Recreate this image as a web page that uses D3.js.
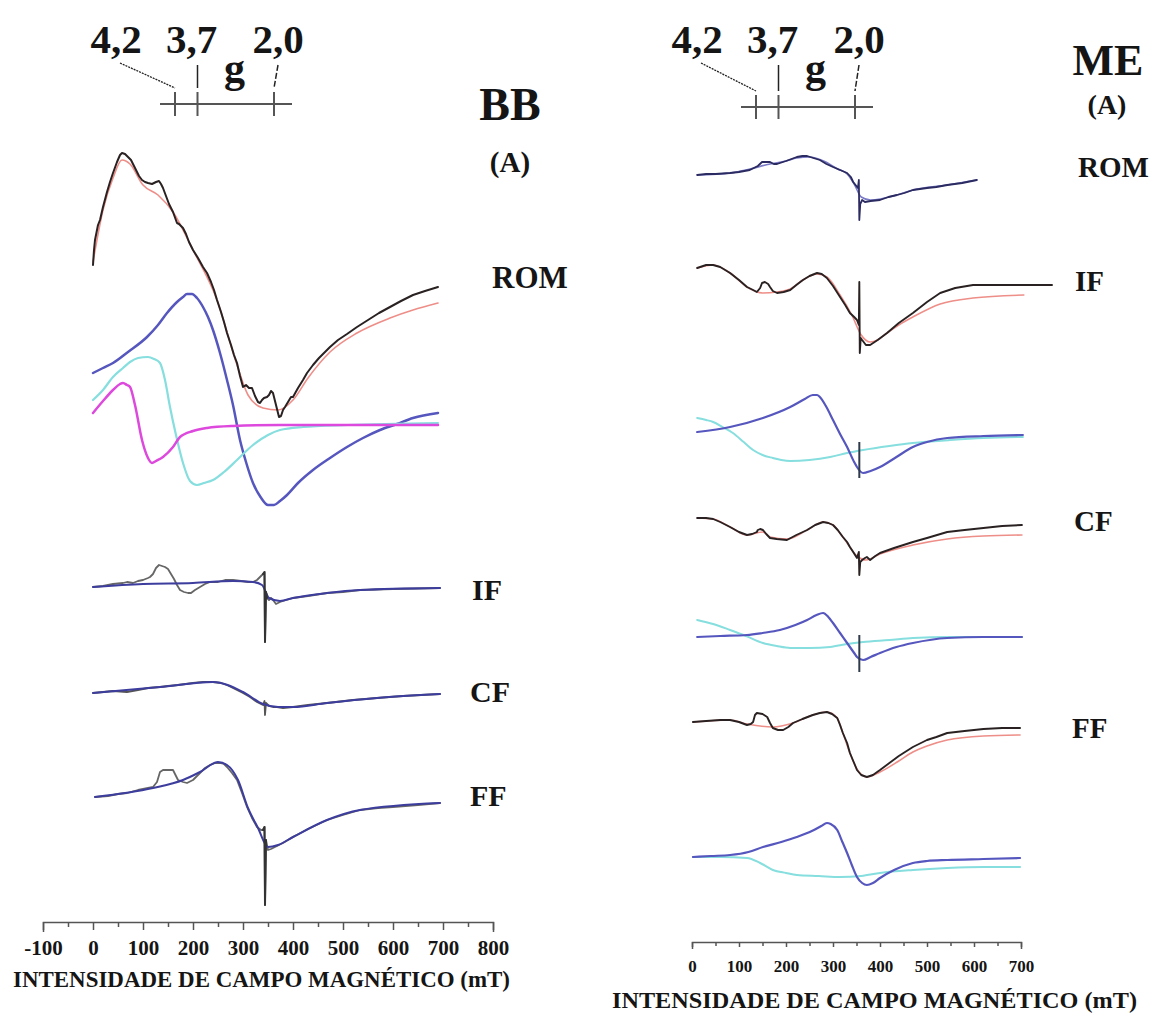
<!DOCTYPE html>
<html>
<head>
<meta charset="utf-8">
<script src="https://cdn.jsdelivr.net/npm/d3@7"></script>
<style>
  body { margin: 0; background: #fff; }
  text { font-family: "Liberation Serif", "Times New Roman", serif; font-weight: bold; fill: #151515; }
</style>
</head>
<body>
<div id="chart-area"></div>
<script>
// EPR spectra, field in mT, intensity in arbitrary units
// ---- BB panel ----
var bbRomExp = [[0,35],[2,50],[4,60],[10,75],[14,80],[20,93],[28,108],[34,118],[40,127],[48,138],[54,145],[58,147],[64,146],[70,143],[76,140],[84,132],[92,124],[98,120],[104,118],[110,117],[118,116],[126,118],[132,119],[136,116],[140,112],[146,104],[152,96],[160,88],[168,77],[172,76],[176,74],[180,72],[186,66],[192,58],[200,50],[210,42],[220,33],[228,27],[236,18],[242,10],[248,0],[256,-12],[262,-22],[268,-33],[276,-45],[282,-55],[288,-63],[294,-76],[300,-87],[306,-85],[312,-88],[318,-88],[324,-96],[330,-102],[334,-103],[338,-100],[342,-98],[348,-97],[352,-95],[356,-91],[360,-93],[366,-105],[372,-117],[376,-116],[380,-110],[384,-107],[390,-102],[396,-97],[400,-97],[410,-88],[420,-80],[428,-73],[440,-65],[452,-58],[464,-52],[474,-47],[490,-40],[508,-34],[528,-27],[550,-20],[572,-13],[594,-7],[616,-1],[640,5],[664,9],[690,13]]
var bbRomFit = [[0,38],[20,90],[40,122],[58,140],[74,136],[100,115],[130,105],[160,88],[200,50],[248,0],[288,-65],[310,-95],[340,-108],[370,-110],[400,-100],[430,-78],[474,-52],[528,-33],[594,-18],[640,-10],[690,-3]]
var bbCompBlue = [[0,52],[20,57],[40,62],[70,73],[108,88],[130,100],[148,112],[168,123],[180,128],[188,131],[198,131],[208,127],[220,118],[230,108],[240,95],[254,72],[268,45],[280,20],[294,-15],[306,-37],[320,-58],[335,-72],[350,-80],[362,-80],[374,-76],[388,-70],[410,-58],[440,-45],[474,-33],[508,-22],[540,-13],[574,-5],[608,1],[640,7],[690,12]]
var bbCompCyan = [[0,25],[20,35],[40,48],[60,57],[74,63],[90,67],[110,68],[122,66],[134,62],[144,45],[154,18],[166,-10],[180,-38],[194,-56],[208,-60],[222,-58],[240,-55],[262,-47],[288,-35],[320,-20],[350,-10],[374,-5],[420,-2],[508,0],[690,2]]
var bbCompMagenta = [[0,12],[20,24],[40,35],[54,41],[60,42],[68,40],[74,38],[84,20],[98,-15],[110,-33],[118,-38],[126,-36],[140,-32],[160,-22],[174,-12],[200,-6],[228,-3],[280,-1],[374,0],[690,0]]
var bbIfExp = [[0,1],[20,2],[40,4],[60,5],[68,6],[80,5],[90,7],[100,8],[110,10],[114,11],[120,14],[126,20],[132,23],[138,22],[144,21],[150,19],[156,14],[162,9],[168,3],[174,-2],[182,-4],[190,-5],[196,-5],[204,-2],[214,1],[224,4],[234,6],[250,6],[264,8],[280,8],[296,7],[310,6],[320,6],[328,8],[334,11],[340,14],[343,16],[344,-54],[346,-4],[348,-10],[352,-12],[356,-10],[360,-12],[366,-16],[374,-14],[386,-12],[400,-10],[430,-8],[468,-5],[500,-4],[534,-2],[600,-1],[694,0]]
var bbIfFit = [[0,1],[100,4],[200,5],[280,7],[320,6],[338,3],[352,-10],[374,-13],[400,-10],[468,-5],[534,-2],[694,0]]
var bbCfExp = [[0,0],[20,1],[40,2],[68,1],[90,3],[110,5],[134,6],[150,7],[170,8],[200,10],[220,11],[240,11],[256,10],[268,8],[284,4],[300,0],[314,-4],[328,-9],[336,-11],[340,-12],[343,-8],[344,-22],[346,-10],[352,-13],[360,-14],[368,-14],[380,-15],[400,-14],[430,-12],[468,-10],[520,-7],[568,-5],[620,-3],[694,-1]]
var bbCfFit = [[0,0],[134,6],[240,11],[300,1],[340,-11],[370,-14],[400,-14],[468,-10],[568,-5],[694,-1]]
var bbFfExp = [[4,3],[30,4],[50,6],[68,7],[90,10],[110,12],[120,13],[128,18],[134,28],[140,30],[150,30],[160,30],[166,24],[170,20],[180,18],[188,17],[200,20],[214,27],[224,32],[234,35],[244,37],[254,37],[262,36],[268,33],[278,27],[288,20],[298,7],[308,-7],[318,-18],[328,-27],[336,-30],[340,-30],[343,-27],[344,-105],[346,-40],[350,-50],[356,-49],[360,-48],[380,-43],[400,-37],[430,-29],[468,-20],[500,-15],[534,-10],[570,-8],[600,-7],[650,-5],[694,-3]]
var bbFfFit = [[4,3],[120,12],[180,20],[214,28],[250,38],[268,35],[290,20],[310,-8],[330,-28],[350,-47],[370,-45],[400,-37],[468,-20],[534,-10],[694,-3]]

// ---- ME panel ----
var meRomExp = [[11,5],[30,6],[50,6],[81,7],[100,8],[123,10],[140,14],[149,18],[158,18],[166,18],[174,16],[181,16],[200,19],[223,23],[235,24],[245,24],[258,22],[272,20],[286,16],[300,13],[315,10],[330,7],[338,3],[343,-2],[348,-5],[353,-8],[355,0],[356,-40],[358,-24],[362,-20],[368,-22],[380,-21],[400,-20],[418,-17],[436,-15],[452,-13],[470,-10],[500,-8],[520,-7],[543,-5],[575,-3],[606,0]]
var meRomFit = [[11,5],[81,7],[123,11],[166,16],[200,19],[223,22],[250,23],[280,19],[310,11],[330,6],[345,-4],[360,-17],[380,-20],[436,-15],[470,-10],[543,-5],[606,0]]
var meIfExp = [[11,22],[30,25],[45,25],[60,23],[81,17],[100,10],[117,3],[130,0],[138,-2],[145,2],[149,7],[155,8],[162,6],[166,3],[172,-1],[181,-3],[195,-2],[209,0],[222,5],[236,10],[250,14],[266,17],[276,16],[287,12],[300,4],[315,-7],[326,-15],[336,-23],[345,-27],[351,-30],[355,-35],[356,8],[357,-63],[359,-48],[362,-50],[370,-55],[379,-55],[395,-50],[415,-43],[440,-33],[470,-23],[500,-12],[528,-3],[560,2],[598,5],[650,5],[700,5],[766,5]]
var meIfFit = [[11,22],[45,25],[81,17],[117,3],[150,-3],[181,-2],[209,1],[236,10],[266,16],[287,13],[315,-5],[340,-25],[360,-45],[379,-52],[395,-50],[415,-43],[440,-35],[470,-27],[528,-14],[598,-8],[706,-5]]
var meIfBlue = [[11,5],[81,10],[151,19],[209,30],[240,38],[257,42],[266,42],[272,40],[286,30],[300,17],[315,3],[330,-10],[345,-25],[351,-30],[364,-36],[380,-34],[400,-30],[435,-20],[470,-10],[500,-5],[543,-1],[620,1],[704,2]]
var meIfCyan = [[11,19],[30,17],[45,15],[65,10],[87,4],[110,-5],[130,-13],[150,-18],[172,-21],[190,-23],[209,-24],[250,-23],[294,-20],[330,-16],[364,-13],[420,-9],[470,-6],[550,-3],[620,-1],[704,0]]
var meCfExp = [[11,12],[30,12],[45,11],[60,8],[81,3],[100,-2],[117,-5],[128,-4],[138,-2],[140,0],[145,1],[151,0],[158,-4],[166,-8],[180,-9],[202,-10],[222,-5],[245,0],[262,5],[279,8],[290,7],[300,5],[310,0],[321,-7],[330,-12],[336,-17],[343,-22],[351,-28],[355,-22],[356,-45],[358,-32],[362,-30],[368,-28],[372,-27],[379,-30],[390,-26],[400,-23],[430,-18],[470,-12],[500,-8],[543,-2],[580,0],[620,2],[660,4],[702,5]]
var meCfFit = [[11,12],[45,11],[81,3],[117,-5],[150,-2],[166,-7],[202,-9],[245,0],[279,8],[300,5],[321,-7],[351,-26],[370,-30],[400,-24],[470,-15],[543,-9],[620,-6],[702,-5]]
var meCfBlue = [[11,0],[60,1],[117,2],[150,4],[187,7],[220,12],[245,17],[265,22],[279,24],[290,20],[300,14],[315,4],[330,-6],[345,-16],[351,-20],[364,-23],[380,-20],[400,-16],[435,-10],[470,-6],[543,-1],[620,0],[702,0]]
var meCfCyan = [[11,17],[45,13],[81,7],[115,1],[151,-6],[180,-9],[209,-11],[250,-11],[294,-10],[330,-7],[364,-5],[420,-3],[470,-1],[550,0],[702,0]]
var meFfExp = [[2,3],[30,4],[60,5],[81,5],[100,3],[117,0],[125,1],[130,3],[134,10],[138,12],[150,11],[160,8],[166,2],[172,-3],[183,-5],[194,-5],[205,-2],[215,2],[235,6],[257,10],[272,12],[287,13],[298,11],[309,7],[315,0],[321,-8],[330,-18],[336,-28],[344,-37],[351,-45],[360,-50],[372,-52],[385,-50],[400,-45],[420,-38],[440,-31],[470,-22],[500,-15],[520,-12],[543,-8],[580,-6],[620,-4],[660,-3],[698,-3]]
var meFfFit = [[2,3],[81,5],[117,1],[172,-2],[215,2],[257,10],[287,13],[309,7],[321,-8],[336,-28],[351,-44],[372,-52],[400,-47],[440,-36],[470,-27],[500,-21],[543,-15],[620,-11],[698,-10]]
var meFfBlue = [[2,0],[40,1],[81,2],[120,5],[151,10],[190,15],[223,20],[255,26],[275,31],[287,34],[295,33],[309,27],[320,15],[330,4],[340,-8],[351,-20],[362,-26],[372,-28],[385,-26],[400,-21],[430,-13],[470,-6],[500,-4],[543,-3],[620,-2],[698,-1]]
var meFfCyan = [[2,0],[60,0],[117,-1],[145,-6],[172,-13],[200,-16],[223,-18],[270,-19],[315,-20],[360,-19],[400,-16],[470,-13],[543,-11],[620,-10],[698,-10]]
// sharp g=2 line seen on the deconvoluted traces: [field, top, bottom]
var meSpikes = [[356, -5, -41], [356, 2, -35]]

// axis ticks and g-factor marks
var bbTicks = d3.range(-100, 801, 100)
var meTicks = d3.range(0, 701, 100)
var gMarks = [4.2, 3.7, 2.0]
var gLabels = ["4,2", "3,7", "2,0"]
var axisTitle = "INTENSIDADE DE CAMPO MAGNÉTICO (mT)"

var width = 1157
var height = 1018

var svg = d3.select("#chart-area")
  .append("svg")
  .attr("width", width)
  .attr("height", height)

// x scales
var xBB = d3.scaleLinear().domain([-100, 800]).range([43, 493])
var xME = d3.scaleLinear().domain([0, 700]).range([692, 1021])

// one a.u. per px, each trace sits on its own baseline
function yAt(base) {
  return d3.scaleLinear().domain([0, 100]).range([base, base - 100])
}

var colExp = "#2a2222"
var colRed = "#ee8e88"
var colNavy = "#3d3d9e"
var colBlue = "#5656bf"
var colCyan = "#86dede"
var colMag = "#dd48dd"

function trace(x, base, data, color, w, smooth) {
  var y = yAt(base)
  var line = d3.line()
    .x(d => x(d[0]))
    .y(d => y(d[1]))
    .curve(smooth ? d3.curveMonotoneX : d3.curveLinear)
  svg.append("path")
    .datum(data)
    .attr("fill", "none")
    .attr("stroke", color)
    .attr("stroke-width", w)
    .attr("stroke-linejoin", "round")
    .attr("stroke-linecap", "round")
    .attr("d", line)
}

// BB
trace(xBB, 425, bbCompBlue, colBlue, 2.5, true)
trace(xBB, 425, bbCompCyan, colCyan, 2.2, true)
trace(xBB, 425, bbCompMagenta, colMag, 2.5, true)
trace(xBB, 300, bbRomFit, colRed, 1.6, true)
trace(xBB, 300, bbRomExp, colExp, 2, false)

trace(xBB, 588, bbIfExp, "#666", 1.8, false)
trace(xBB, 588, bbIfFit, colNavy, 2, true)
trace(xBB, 693, bbCfExp, "#555", 1.8, false)
trace(xBB, 693, bbCfFit, colNavy, 2, true)
trace(xBB, 800, bbFfExp, "#666", 1.8, false)
trace(xBB, 800, bbFfFit, colNavy, 2, true)
// re-draw the spikes so they stay dark
trace(xBB, 588, bbIfExp.filter(d => d[0] >= 340 && d[0] <= 348), "#333", 2, false)
trace(xBB, 800, bbFfExp.filter(d => d[0] >= 340 && d[0] <= 348), "#333", 2, false)

// ME
trace(xME, 180, meRomFit, "#7a7ac6", 1.6, true)
trace(xME, 180, meRomExp, "#2b2b62", 1.8, false)
trace(xME, 290, meIfFit, colRed, 1.6, true)
trace(xME, 290, meIfExp, colExp, 1.9, false)
trace(xME, 437, meIfCyan, colCyan, 2, true)
trace(xME, 437, meIfBlue, colBlue, 2.2, true)
trace(xME, 530, meCfFit, colRed, 1.6, true)
trace(xME, 530, meCfExp, colExp, 1.9, false)
trace(xME, 637, meCfCyan, colCyan, 2, true)
trace(xME, 637, meCfBlue, colBlue, 2.2, true)
trace(xME, 725, meFfFit, colRed, 1.6, true)
trace(xME, 725, meFfExp, colExp, 1.9, false)
trace(xME, 857, meFfCyan, colCyan, 2, true)
trace(xME, 857, meFfBlue, colBlue, 2.2, true)

var spikeBases = [437, 637]
meSpikes.forEach(function(s, i) {
  var y = yAt(spikeBases[i])
  svg.append("line")
    .attr("x1", xME(s[0])).attr("x2", xME(s[0]))
    .attr("y1", y(s[1])).attr("y2", y(s[2]))
    .attr("stroke", "#2f3a4a").attr("stroke-width", 2)
})

// axes
function fieldAxis(x, ticks, yPos, major, minor, fontSize, labelY) {
  var minorTicks = ticks.slice(0, -1).map(d => d + 50)
  svg.append("g")
    .attr("transform", "translate(0," + yPos + ")")
    .call(d3.axisBottom(x).tickValues(minorTicks).tickSize(minor).tickFormat(""))
    .call(g => g.select(".domain").remove())
  var ax = svg.append("g")
    .attr("class", "x axis")
    .attr("transform", "translate(0," + yPos + ")")
    .call(d3.axisBottom(x).tickValues(ticks).tickSize(major).tickSizeOuter(major + 2)
      .tickFormat(d => String(d)))
  svg.selectAll(".tick line").attr("stroke", "#555").attr("stroke-width", 1.5)
  ax.select(".domain").attr("stroke", "#555").attr("stroke-width", 1.5)
  ax.selectAll("text")
    .attr("y", labelY)
    .attr("dy", 0)
    .attr("font-size", fontSize + "px")
    .style("font-family", "'Liberation Serif', serif")
    .style("font-weight", "bold")
    .attr("fill", "#222")
}
fieldAxis(xBB, bbTicks, 922, 8, 5, 21, 33)
fieldAxis(xME, meTicks, 942, 5, 4, 17, 30)

svg.append("text")
  .text(axisTitle)
  .attr("x", 13).attr("y", 987)
  .attr("font-size", "23px")
  .attr("textLength", 497)
  .attr("lengthAdjust", "spacingAndGlyphs")
svg.append("text")
  .text(axisTitle)
  .attr("x", 612).attr("y", 1008)
  .attr("font-size", "23px")
  .attr("textLength", 525)
  .attr("lengthAdjust", "spacingAndGlyphs")

// g-factor scales
function gScale(x42, x20, lineY) {
  var gx = d3.scaleLinear().domain([4.2, 2.0]).range([x42, x20])
  svg.append("line")
    .attr("x1", gx(4.2) - 15).attr("x2", gx(2.0) + 18)
    .attr("y1", lineY).attr("y2", lineY)
    .attr("stroke", "#555").attr("stroke-width", 2)
  gMarks.forEach(function(g, i) {
    svg.append("line")
      .attr("x1", gx(g)).attr("x2", gx(g))
      .attr("y1", lineY - 12).attr("y2", lineY + 12)
      .attr("stroke", "#555").attr("stroke-width", 2)
  })
  var labelX = [gx(4.2) - 59, gx(3.7) - 6, gx(2.0) + 4]
  gLabels.forEach(function(t, i) {
    svg.append("text")
      .text(t)
      .attr("x", labelX[i]).attr("y", 53)
      .attr("text-anchor", "middle")
      .attr("font-size", "41px")
  })
  svg.append("text")
    .text("g")
    .attr("x", gx(3.7) + 37).attr("y", 82)
    .attr("text-anchor", "middle")
    .attr("font-size", "42px")
  // leader lines
  svg.append("line")
    .attr("x1", labelX[0] + 4).attr("y1", 63)
    .attr("x2", gx(4.2)).attr("y2", lineY - 16)
    .attr("stroke", "#222").attr("stroke-width", 1.3)
    .attr("stroke-dasharray", "2,1")
  svg.append("line")
    .attr("x1", gx(3.7)).attr("y1", 65)
    .attr("x2", gx(3.7)).attr("y2", lineY - 16)
    .attr("stroke", "#222").attr("stroke-width", 1.5)
  svg.append("line")
    .attr("x1", gx(2.0) + 4).attr("y1", 65)
    .attr("x2", gx(2.0)).attr("y2", lineY - 16)
    .attr("stroke", "#222").attr("stroke-width", 1.5)
    .attr("stroke-dasharray", "6,2")
}
gScale(175, 274, 104)
gScale(756, 855, 107)

// panel and trace labels
function label(t, x, y, size, anchor) {
  svg.append("text")
    .text(t)
    .attr("x", x).attr("y", y)
    .attr("text-anchor", anchor || "start")
    .attr("font-size", size + "px")
}
label("BB", 510, 120, 46, "middle")
label("(A)", 510, 172, 29, "middle")
label("ROM", 492, 288, 31)
label("IF", 472, 600, 30)
label("CF", 470, 702, 30)
label("FF", 470, 806, 30)

label("ME", 1108, 75, 44, "middle")
label("(A)", 1107, 114, 28, "middle")
label("ROM", 1078, 177, 29)
label("IF", 1075, 291, 29)
label("CF", 1074, 531, 29)
label("FF", 1072, 738, 29)
</script>
</body>
</html>
